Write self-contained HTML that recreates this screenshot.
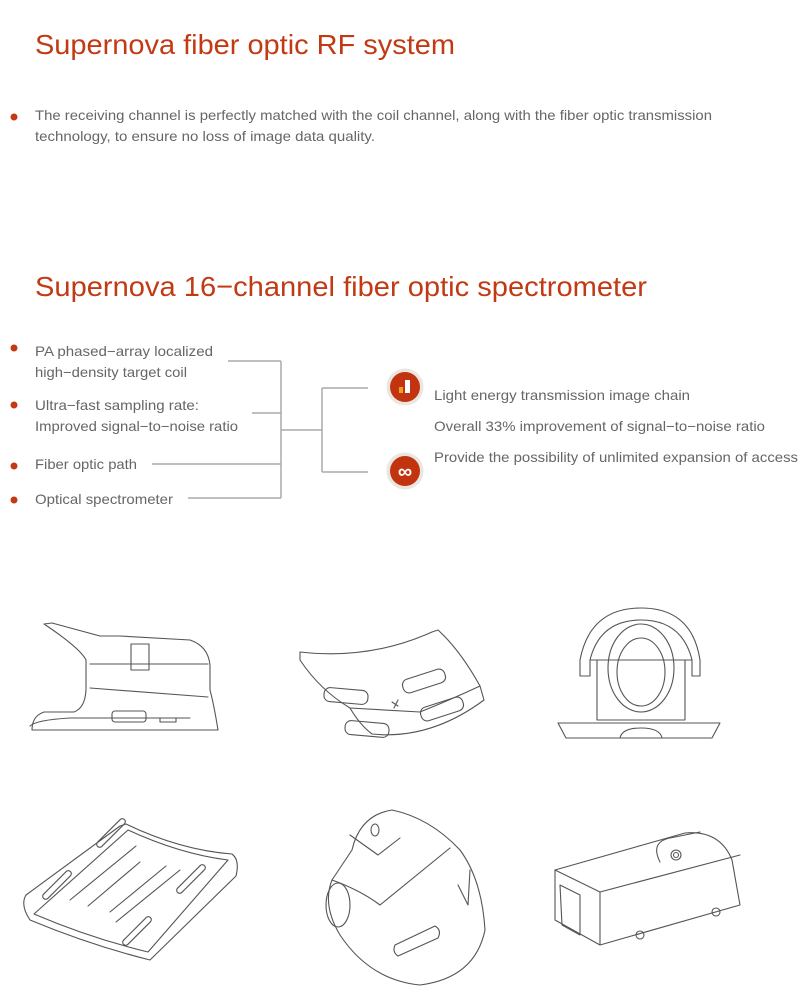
<!DOCTYPE html>
<html><head><meta charset="utf-8"><style>
html,body{margin:0;padding:0;background:#fff;}
svg{display:block;}
text{font-family:"Liberation Sans",sans-serif;}
.t{fill:#c23a14;font-size:28px;}
.b{fill:#666;font-size:14px;}
.ln{stroke:#aaa;stroke-width:1.5;fill:none;}
.d{stroke:#555;stroke-width:1.1;fill:none;stroke-linejoin:round;stroke-linecap:round;}
</style></head><body>
<svg width="800" height="995" viewBox="0 0 800 995" xmlns="http://www.w3.org/2000/svg">
<text class="t" x="35" y="54" textLength="420" lengthAdjust="spacingAndGlyphs">Supernova fiber optic RF system</text>
<circle cx="14" cy="117" r="3.5" fill="#c23a14"/>
<text class="b" x="35" y="120" textLength="677" lengthAdjust="spacingAndGlyphs">The receiving channel is perfectly matched with the coil channel, along with the fiber optic transmission</text>
<text class="b" x="35" y="141" textLength="340" lengthAdjust="spacingAndGlyphs">technology, to ensure no loss of image data quality.</text>

<text class="t" x="35" y="296" textLength="612" lengthAdjust="spacingAndGlyphs">Supernova 16−channel fiber optic spectrometer</text>

<circle cx="14" cy="348" r="3.5" fill="#c23a14"/>
<circle cx="14" cy="405" r="3.5" fill="#c23a14"/>
<circle cx="14" cy="466" r="3.5" fill="#c23a14"/>
<circle cx="14" cy="500" r="3.5" fill="#c23a14"/>
<text class="b" x="35" y="356" textLength="178" lengthAdjust="spacingAndGlyphs">PA phased−array localized</text>
<text class="b" x="35" y="377" textLength="152" lengthAdjust="spacingAndGlyphs">high−density target coil</text>
<text class="b" x="35" y="410" textLength="164" lengthAdjust="spacingAndGlyphs">Ultra−fast sampling rate:</text>
<text class="b" x="35" y="431" textLength="203" lengthAdjust="spacingAndGlyphs">Improved signal−to−noise ratio</text>
<text class="b" x="35" y="469" textLength="102" lengthAdjust="spacingAndGlyphs">Fiber optic path</text>
<text class="b" x="35" y="504" textLength="138" lengthAdjust="spacingAndGlyphs">Optical spectrometer</text>

<path class="ln" d="M228 361H281M252 413H281M152 464H281M188 498H281M281 361V498M281 430H322M322 388V472M322 388H368M322 472H368"/>

<circle cx="405" cy="387" r="18.5" fill="#ebe6df"/>
<circle cx="405" cy="387" r="15" fill="#c2330f"/>
<rect x="399" y="387" width="4" height="6" fill="#f0a020"/>
<rect x="405" y="380" width="5" height="13" fill="#fff"/>
<circle cx="405" cy="471" r="18.5" fill="#ebe6df"/>
<circle cx="405" cy="471" r="15" fill="#c2330f"/>
<text x="405" y="478" text-anchor="middle" fill="#fff" font-size="20" font-weight="bold">∞</text>

<text class="b" x="434" y="400" textLength="256" lengthAdjust="spacingAndGlyphs">Light energy transmission image chain</text>
<text class="b" x="434" y="431" textLength="331" lengthAdjust="spacingAndGlyphs">Overall 33% improvement of signal−to−noise ratio</text>
<text class="b" x="434" y="462" textLength="364" lengthAdjust="spacingAndGlyphs">Provide the possibility of unlimited expansion of access</text>

<!-- object 1 -->
<g class="d">
<path d="M44 624 L52 623 L100 636 L120 636 L190 640 Q208 646 210 665 L210 690 Q214 705 218 730 L32 730 Q32 716 44 712 L74 712 Q85 708 86 690 L86 660 Q80 648 44 624Z"/>
<path d="M90 664 H208 M90 688 L208 697 M30 726 Q36 720 70 718 L190 718"/>
<rect x="131" y="644" width="18" height="26"/>
<rect x="112" y="711" width="34" height="11" rx="3"/>
<rect x="160" y="718" width="16" height="4"/>
</g>
<!-- object 2 -->
<g class="d">
<path d="M300 652 Q370 660 432 632 L438 630 Q460 650 480 686 Q450 700 420 712 L350 708 Q320 690 300 660Z"/>
<path d="M350 708 Q360 725 372 734 Q430 740 484 700 L480 686"/>
<rect x="324" y="689" width="44" height="14" rx="6" transform="rotate(5 346 696)"/>
<rect x="345" y="722" width="44" height="14" rx="6" transform="rotate(5 367 729)"/>
<rect x="402" y="674" width="44" height="14" rx="6" transform="rotate(-18 424 681)"/>
<rect x="420" y="702" width="44" height="14" rx="6" transform="rotate(-18 442 709)"/>
<path d="M392 702 l6 4 M398 700 l-4 8"/>
</g>
<!-- object 3 -->
<g class="d">
<path d="M580 660 Q590 608 641 608 Q692 608 700 660 L700 676 L692 676 L692 660 Q682 620 641 620 Q600 620 590 660 L590 676 L580 676Z"/>
<path d="M590 660 H692"/>
<ellipse cx="641" cy="668" rx="33" ry="44"/>
<ellipse cx="641" cy="672" rx="24" ry="34"/>
<path d="M597 660 L597 720 L685 720 L685 660"/>
<path d="M558 723 H720 L712 738 H566Z"/>
<path d="M620 738 Q622 728 641 728 Q660 728 662 738"/>
</g>
<!-- object 4 -->
<g class="d">
<path d="M126 824 Q180 850 232 854 Q240 860 236 876 L150 960 Q90 945 30 920 Q20 905 26 895 L120 826Z"/>
<path d="M128 830 Q180 854 228 860 L148 952 Q90 938 34 914Z"/>
<rect x="92" y="830" width="38" height="6" rx="3" transform="rotate(-45 111 833)"/>
<rect x="38" y="882" width="38" height="6" rx="3" transform="rotate(-45 57 885)"/>
<rect x="172" y="876" width="38" height="6" rx="3" transform="rotate(-45 191 879)"/>
<rect x="118" y="928" width="38" height="6" rx="3" transform="rotate(-45 137 931)"/>
<path d="M70 900 L136 846 M88 906 L140 862 M110 912 L166 866 M116 922 L180 870"/>
</g>
<!-- object 5 -->
<g class="d">
<path d="M352 850 Q360 815 392 810 Q430 818 460 850 Q482 880 485 930 Q475 978 420 985 Q370 980 340 935 Q322 905 332 880Z"/>
<path d="M332 880 Q360 890 380 905 L450 848 M350 835 L378 855 L400 838"/>
<ellipse cx="375" cy="830" rx="4" ry="6"/>
<path d="M395 945 L435 926 Q442 930 438 938 L398 956 Q392 952 395 945Z"/>
<path d="M470 870 L468 905 L458 885"/>
<ellipse cx="338" cy="905" rx="12" ry="22"/>
</g>
<!-- object 6 -->
<g class="d">
<path d="M555 870 L685 833 Q720 830 732 860 L740 905 L600 945 L555 920Z"/>
<path d="M555 870 L600 892 L740 855 M600 892 L600 945"/>
<path d="M560 885 L580 895 L580 935 L562 925Z"/>
<path d="M660 862 Q650 842 670 838 L700 832"/>
<circle cx="676" cy="855" r="5"/>
<circle cx="676" cy="855" r="2.5"/>
<circle cx="716" cy="912" r="4"/>
<circle cx="640" cy="935" r="4"/>
</g>
</svg>
</body></html>
